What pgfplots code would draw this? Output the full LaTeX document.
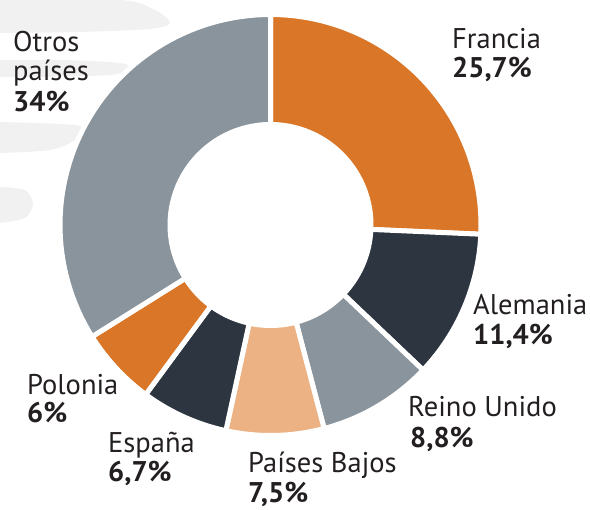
\documentclass[border=0pt]{standalone}
\usepackage{pgfplots}
\pgfplotsset{compat=1.18}
\usepackage{fontspec}
\setmainfont{PT Sans}
\definecolor{cOrange}{HTML}{D97628}
\definecolor{cDark}{HTML}{2C3540}
\definecolor{cGray}{HTML}{8A949C}
\definecolor{cLight}{HTML}{EDB283}
\definecolor{cText}{HTML}{231F20}
\definecolor{cWater}{HTML}{F0F1F0}
% centre (px), outer and inner radius
\def\cx{270.5}\def\cy{285}\def\Ro{210.5}\def\Ri{100.5}
% one ring segment: #1 cumulative start (%), #2 share (%), #3 colour
\newcommand{\slice}[3]{%
  \addplot[fill=#3, draw=white, line width=5pt, line join=miter,
    samples at={0,1,...,122}, variable=\t]
  ({\cx+((\t<=60||\t>121)?\Ro:\Ri)*cos(90-3.6*(#1+#2*((\t<=60)?(\t/60):((\t<=121)?((121-\t)/60):0))))},
   {\cy+((\t<=60||\t>121)?\Ro:\Ri)*sin(90-3.6*(#1+#2*((\t<=60)?(\t/60):((\t<=121)?((121-\t)/60):0))))});
}
\newcommand{\lab}[3]{\node[anchor=base west, inner sep=0pt, text=cText, font=\fontsize{28.5}{32}\selectfont] at (axis cs:#1,510-#2) {#3};}
\begin{document}
\begin{tikzpicture}
\useasboundingbox (0,0) rectangle (590pt,510pt);
\begin{axis}[scale only axis, width=590pt, height=510pt,
  xmin=0, xmax=590, ymin=0, ymax=510, hide axis, clip=false]
% faint background swooshes
\addplot[fill=cWater, draw=none, smooth] coordinates {(0,510) (120,510) (155,500) (170,487) (150,481) (80,478) (0,477)};
\addplot[fill=cWater, draw=none, smooth] coordinates {(0,450) (60,450) (120,447) (130,441) (110,435) (40,433) (0,433)};
\addplot[fill=cWater, draw=none, smooth] coordinates {(0,388) (60,386) (82,383) (75,370) (50,360) (0,357)};
\addplot[fill=cWater, draw=none, smooth] coordinates {(0,323) (25,320) (33,306) (25,292) (0,287)};
% data: Francia 25.7, Alemania 11.4, Reino Unido 8.8, Países Bajos 7.5, España 6.7, Polonia 6, Otros 34
\slice{0}{25.7}{cOrange}
\slice{25.7}{11.4}{cDark}
\slice{37.1}{8.8}{cGray}
\slice{45.9}{7.5}{cLight}
\slice{53.4}{6.7}{cDark}
\slice{60.1}{6.0}{cOrange}
\slice{66.1}{33.9}{cGray}
% labels
\lab{452}{49}{Francia}
\lab{452}{78}{\bfseries 25,7\%}
\lab{13}{52}{Otros}
\lab{13}{81}{países}
\lab{13}{112}{\bfseries 34\%}
\lab{473}{315}{Alemania}
\lab{473}{345}{\bfseries 11,4\%}
\lab{408}{417}{Reino Unido}
\lab{410}{448}{\bfseries 8,8\%}
\lab{248}{473}{Países Bajos}
\lab{248}{503}{\bfseries 7,5\%}
\lab{108}{453}{España}
\lab{108}{482}{\bfseries 6,7\%}
\lab{27}{395}{Polonia}
\lab{27}{423}{\bfseries 6\%}
\end{axis}
\end{tikzpicture}
\end{document}
